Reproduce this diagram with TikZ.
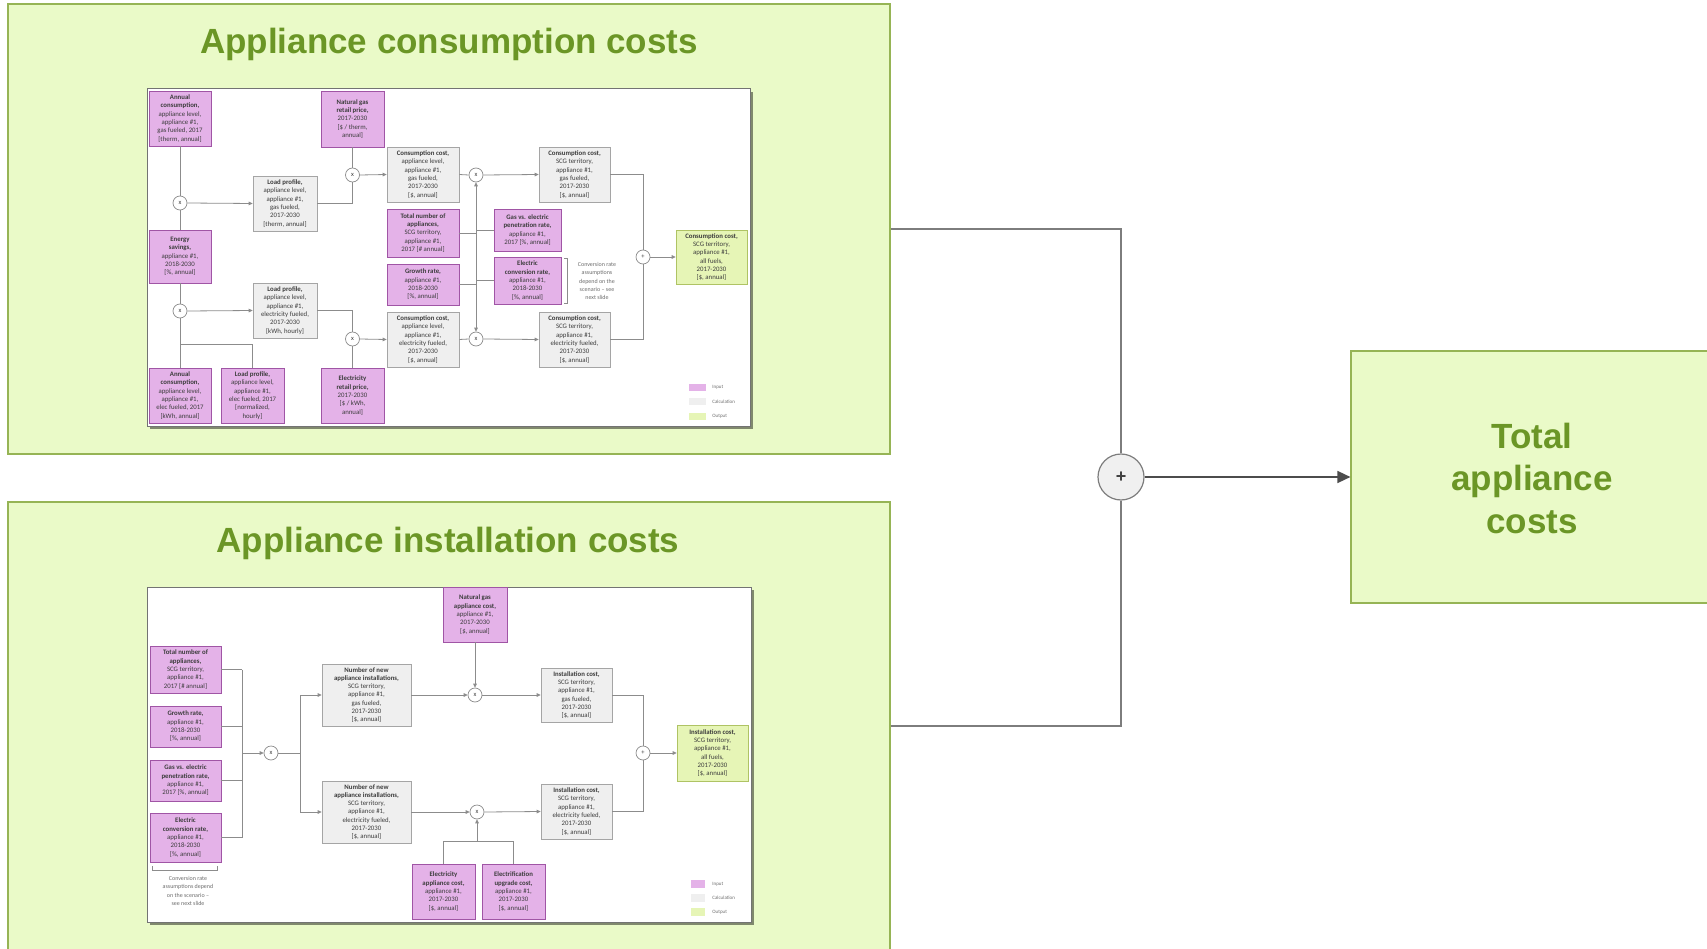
\documentclass[tikz,border=0pt]{standalone}
\usepackage{fontspec}
\setmainfont{Carlito}
\newfontfamily\titlefont{Liberation Sans}
\usetikzlibrary{arrows.meta,shadows}
\definecolor{bgreen}{RGB}{234,250,200}
\definecolor{bgreenedge}{RGB}{150,180,85}
\definecolor{tgreen}{RGB}{107,150,38}
\definecolor{inpfill}{RGB}{228,178,232}
\definecolor{inpedge}{RGB}{160,85,165}
\definecolor{calcfill}{RGB}{239,239,239}
\definecolor{calcedge}{RGB}{165,165,165}
\definecolor{outfill}{RGB}{230,245,182}
\definecolor{outedge}{RGB}{175,195,100}
\definecolor{lgray}{RGB}{140,140,140}
\definecolor{bgray}{RGB}{125,125,125}
\definecolor{txt}{RGB}{60,60,60}
\definecolor{notetxt}{RGB}{110,110,110}
\newcommand\bx[7]{\node[#6, minimum width={(#4-#2)*1pt}, minimum height={(#5-#3)*1pt}] (#1) at ({(#2+#4)/2},{(#3+#5)/2}) {#7};}
\tikzset{
  bigbox/.style={draw=bgreenedge, fill=bgreen, line width=1.2pt, inner sep=0pt},
  bigtitle/.style={font=\titlefont\bfseries\fontsize{35}{42.5}\selectfont, text=tgreen, align=center},
  frame/.style={draw=black!55, fill=white, line width=1pt, inner sep=0pt,
    drop shadow={shadow xshift=3pt, shadow yshift=-3pt, fill=black, opacity=0.45}},
  ibox/.style={draw, line width=0.7pt, inner sep=0pt, align=center, text=txt,
    font=\fontsize{6.8}{8.3}\selectfont},
  inp/.style={ibox, fill=inpfill, draw=inpedge},
  calc/.style={ibox, fill=calcfill, draw=calcedge},
  outp/.style={ibox, fill=outfill, draw=outedge},
  leg/.style={inner sep=0pt},
  legtxt/.style={anchor=west, inner sep=0pt, text=notetxt, font=\fontsize{5}{6}\selectfont},
  note/.style={align=center, inner sep=0pt, text=notetxt, font=\fontsize{6}{8.3}\selectfont},
  op/.style={circle, draw=lgray, fill=white, line width=0.7pt, minimum size=14pt, inner sep=0pt,
    text=txt, font=\fontsize{6.5}{6.5}\selectfont},
  il/.style={draw=lgray, line width=0.8pt},
  ia/.style={il, -{Triangle[length=4pt,width=3.6pt]}},
  bigline/.style={draw=bgray, line width=1.6pt},
}
\begin{document}
\begin{tikzpicture}[x=1pt,y=-1pt]
\useasboundingbox (0,0) rectangle (1707,949);
\fill[white] (0,0) rectangle (1707,949);

% big boxes
\bx{cons}{8}{4}{890}{454}{bigbox}{}
\bx{inst}{8}{502}{890}{950}{bigbox}{}
\bx{total}{1351}{351}{1712}{603}{bigbox}{}
\node[bigtitle, anchor=base] (t1) at (449,54) {Appliance consumption costs};
\node[bigtitle, anchor=base] (t2) at (448,552) {Appliance installation costs};
\node[bigtitle] (t3) at (1532,478) {Total\\appliance\\costs};
\node[circle, draw=bgray, fill=black!6, line width=1.2pt, minimum size=46pt, inner sep=0pt,
  font=\titlefont\bfseries\fontsize{18}{18}\selectfont, text=black!75] (sum) at (1121,477) {+};
\draw[bigline] (cons.east) -| (sum.north);
\draw[bigline] (inst.east) -| (sum.south);
\draw[bigline, -{Triangle[length=13pt,width=12pt]}, black!70] (sum.east) -- (total.west);

% ===== top inner diagram =====
\bx{f1}{147}{89}{750}{426}{frame}{}
\bx{a1}{149}{91}{211}{146}{inp}{\textbf{Annual}\\\textbf{consumption,}\\appliance level,\\appliance \#1,\\gas fueled, 2017\\{[therm, annual]}}
\bx{ngp}{321}{91}{384}{147}{inp}{\textbf{Natural gas}\\\textbf{retail price,}\\2017-2030\\{[\$ / therm,}\\annual]}
\bx{lpg}{253}{176}{317}{231}{calc}{\textbf{Load profile,}\\appliance level,\\appliance \#1,\\gas fueled,\\2017-2030\\{[therm, annual]}}
\bx{es}{149}{230}{211}{283}{inp}{\textbf{Energy}\\\textbf{savings,}\\appliance \#1,\\2018-2030\\{[\%, annual]}}
\bx{lpe}{253}{283}{317}{338}{calc}{\textbf{Load profile,}\\appliance level,\\appliance \#1,\\electricity fueled,\\2017-2030\\{[kWh, hourly]}}
\bx{ace}{149}{368}{211}{423}{inp}{\textbf{Annual}\\\textbf{consumption,}\\appliance level,\\appliance \#1,\\elec fueled, 2017\\{[kWh, annual]}}
\bx{lpx}{221}{368}{284}{423}{inp}{\textbf{Load profile,}\\appliance level,\\appliance \#1,\\elec fueled, 2017\\{[normalized,}\\hourly]}
\bx{ep}{321}{368}{384}{423}{inp}{\textbf{Electricity}\\\textbf{retail price,}\\2017-2030\\{[\$ / kWh,}\\annual]}
\bx{ccag}{387}{147}{459}{202}{calc}{\textbf{Consumption cost,}\\appliance level,\\appliance \#1,\\gas fueled,\\2017-2030\\{[\$, annual]}}
\bx{ccsg}{539}{147}{610}{202}{calc}{\textbf{Consumption cost,}\\SCG territory,\\appliance \#1,\\gas fueled,\\2017-2030\\{[\$, annual]}}
\bx{tn}{387}{209}{459}{257}{inp}{\textbf{Total number of}\\\textbf{appliances,}\\SCG territory,\\appliance \#1,\\2017 [\# annual]}
\bx{gve}{494}{209}{561}{251}{inp}{\textbf{Gas vs. electric}\\\textbf{penetration rate,}\\appliance \#1,\\2017 [\%, annual]}
\bx{gr}{387}{264}{459}{305}{inp}{\textbf{Growth rate,}\\appliance \#1,\\2018-2030\\{[\%, annual]}}
\bx{ec}{494}{257}{561}{304}{inp}{\textbf{Electric}\\\textbf{conversion rate,}\\appliance \#1,\\2018-2030\\{[\%, annual]}}
\bx{ccae}{387}{312}{459}{367}{calc}{\textbf{Consumption cost,}\\appliance level,\\appliance \#1,\\electricity fueled,\\2017-2030\\{[\$, annual]}}
\bx{ccse}{539}{312}{610}{367}{calc}{\textbf{Consumption cost,}\\SCG territory,\\appliance \#1,\\electricity fueled,\\2017-2030\\{[\$, annual]}}
\bx{oc}{676}{230}{747}{284}{outp}{\textbf{Consumption cost,}\\SCG territory,\\appliance \#1,\\all fuels,\\2017-2030\\{[\$, annual]}}
\node[note] (nt1) at (597,281) {Conversion rate\\assumptions\\depend on the\\scenario -- see\\next slide};
\draw[il, line width=0.6pt] ([xshift=3pt,yshift=-2pt]ec.north east) -- ([xshift=6pt,yshift=-2pt]ec.north east) -- ([xshift=6pt,yshift=1pt]ec.south east) -- ([xshift=3pt,yshift=1pt]ec.south east);
\node[op] (c1) at (180,203) {x};
\node[op] (c2) at (352.5,175) {x};
\node[op] (c3) at (180,311) {x};
\node[op] (c4) at (352.5,339) {x};
\node[op] (c5) at (476,175) {x};
\node[op] (c6) at (476,339) {x};
\node[op] (cp) at (643,257) {+};
\coordinate (j1) at (476,257);
\coordinate (j2) at (180,344);
\draw[il] (a1.south) -- (c1.north);
\draw[il] (c1.south) -- (es.north);
\draw[ia] (c1.east) -- (lpg.west);
\draw[il] (lpg.east) -| (c2.south);
\draw[il] (ngp.south) -- (c2.north);
\draw[ia] (c2.east) -- (ccag.west);
\draw[il] (ccag.east) -- (c5.west);
\draw[ia] (c5.east) -- (ccsg.west);
\draw[il] (es.south) -- (c3.north);
\draw[il] (c3.south) -- (ace.north);
\draw[il] (j2) -| (lpx.north);
\draw[ia] (c3.east) -- (lpe.west);
\draw[il] (lpe.east) -| (c4.north);
\draw[il] (ep.north) -- (c4.south);
\draw[ia] (c4.east) -- (ccae.west);
\draw[il] (ccae.east) -- (c6.west);
\draw[ia] (c6.east) -- (ccse.west);
\draw[il] (tn.east) -- (tn.east -| j1);
\draw[il] (gve.west) -- (gve.west -| j1);
\draw[il] (gr.east) -- (gr.east -| j1);
\draw[il] (ec.west) -- (ec.west -| j1);
\draw[ia] (j1) -- (c5.south);
\draw[ia] (j1) -- (c6.north);
\draw[il] (ccsg.east) -| (cp.north);
\draw[il] (ccse.east) -| (cp.south);
\draw[ia] (cp.east) -- (oc.west);
% legend top
\bx{la1}{689}{384}{706}{391}{leg, fill=inpfill}{}
\bx{la2}{689}{398}{706}{405}{leg, fill=calcfill}{}
\bx{la3}{689}{413}{706}{420}{leg, fill=outfill}{}
\node[legtxt] (lt1) at ([xshift=6pt]la1.east) {Input};
\node[legtxt] (lt2) at ([xshift=6pt]la2.east) {Calculation};
\node[legtxt] (lt3) at ([xshift=6pt]la3.east) {Output};

% ===== bottom inner diagram =====
\bx{f2}{147}{587}{751}{922}{frame}{}
\bx{btn}{150}{646}{221}{693}{inp}{\textbf{Total number of}\\\textbf{appliances,}\\SCG territory,\\appliance \#1,\\2017 [\# annual]}
\bx{bgr}{150}{706}{221}{747}{inp}{\textbf{Growth rate,}\\appliance \#1,\\2018-2030\\{[\%, annual]}}
\bx{bgve}{150}{760}{221}{801}{inp}{\textbf{Gas vs. electric}\\\textbf{penetration rate,}\\appliance \#1,\\2017 [\%, annual]}
\bx{bec}{150}{813}{221}{862}{inp}{\textbf{Electric}\\\textbf{conversion rate,}\\appliance \#1,\\2018-2030\\{[\%, annual]}}
\node[note] (nt2) at (188,891) {Conversion rate\\assumptions depend\\on the scenario --\\see next slide};
\draw[il, line width=0.6pt] ([xshift=3pt,yshift=-4pt]bec.south west) -- ([xshift=3pt,yshift=-8pt]bec.south west) -- ([xshift=-4pt,yshift=-8pt]bec.south east) -- ([xshift=-4pt,yshift=-4pt]bec.south east);
\bx{nng}{322}{664}{411}{726}{calc}{\textbf{Number of new}\\\textbf{appliance installations,}\\SCG territory,\\appliance \#1,\\gas fueled,\\2017-2030\\{[\$, annual]}}
\bx{nne}{322}{781}{411}{843}{calc}{\textbf{Number of new}\\\textbf{appliance installations,}\\SCG territory,\\appliance \#1,\\electricity fueled,\\2017-2030\\{[\$, annual]}}
\bx{ngac}{443}{587}{507}{642}{inp}{\textbf{Natural gas}\\\textbf{appliance cost,}\\appliance \#1,\\2017-2030\\{[\$, annual]}}
\bx{icg}{541}{668}{612}{722}{calc}{\textbf{Installation cost,}\\SCG territory,\\appliance \#1,\\gas fueled,\\2017-2030\\{[\$, annual]}}
\bx{ice}{541}{784}{612}{839}{calc}{\textbf{Installation cost,}\\SCG territory,\\appliance \#1,\\electricity fueled,\\2017-2030\\{[\$, annual]}}
\bx{eac}{412}{864}{475}{919}{inp}{\textbf{Electricity}\\\textbf{appliance cost,}\\appliance \#1,\\2017-2030\\{[\$, annual]}}
\bx{euc}{482}{864}{545}{919}{inp}{\textbf{Electrification}\\\textbf{upgrade cost,}\\appliance \#1,\\2017-2030\\{[\$, annual]}}
\bx{oi}{677}{725}{748}{781}{outp}{\textbf{Installation cost,}\\SCG territory,\\appliance \#1,\\all fuels,\\2017-2030\\{[\$, annual]}}
\node[op] (d1) at (271,753) {x};
\node[op] (d2) at (475,695) {x};
\node[op] (d3) at (477,812) {x};
\node[op] (dp) at (643,753) {+};
\coordinate (v1) at (242,753);
\coordinate (j3) at (300,753);
\draw[il] (btn.east) -- (btn.east -| v1);
\draw[il] (bgr.east) -- (bgr.east -| v1);
\draw[il] (bgve.east) -- (bgve.east -| v1);
\draw[il] (bec.east) -- (bec.east -| v1);
\draw[il] (btn.east -| v1) -- (bec.east -| v1);
\draw[ia] (v1) -- (d1.west);
\draw[il] (d1.east) -- (j3);
\draw[ia] (j3) |- (nng.west);
\draw[ia] (j3) |- (nne.west);
\draw[ia] (nng.east) -- (d2.west);
\draw[ia] (ngac.south) -- (d2.north);
\draw[ia] (d2.east) -- (icg.west);
\draw[ia] (nne.east) -- (d3.west);
\draw[ia] (d3.east) -- (ice.west);
\draw[il] (eac.north) -- ++(0,-22) -| (euc.north);
\draw[ia] ([yshift=22pt]eac.north -| d3.south) -- (d3.south);
\draw[il] (icg.east) -| (dp.north);
\draw[il] (ice.east) -| (dp.south);
\draw[ia] (dp.east) -- (oi.west);
% legend bottom
\bx{lb1}{691}{880}{705}{888}{leg, fill=inpfill}{}
\bx{lb2}{691}{894}{705}{902}{leg, fill=calcfill}{}
\bx{lb3}{691}{908}{705}{916}{leg, fill=outfill}{}
\node[legtxt] (lu1) at ([xshift=7pt]lb1.east) {Input};
\node[legtxt] (lu2) at ([xshift=7pt]lb2.east) {Calculation};
\node[legtxt] (lu3) at ([xshift=7pt]lb3.east) {Output};
\end{tikzpicture}
\end{document}
